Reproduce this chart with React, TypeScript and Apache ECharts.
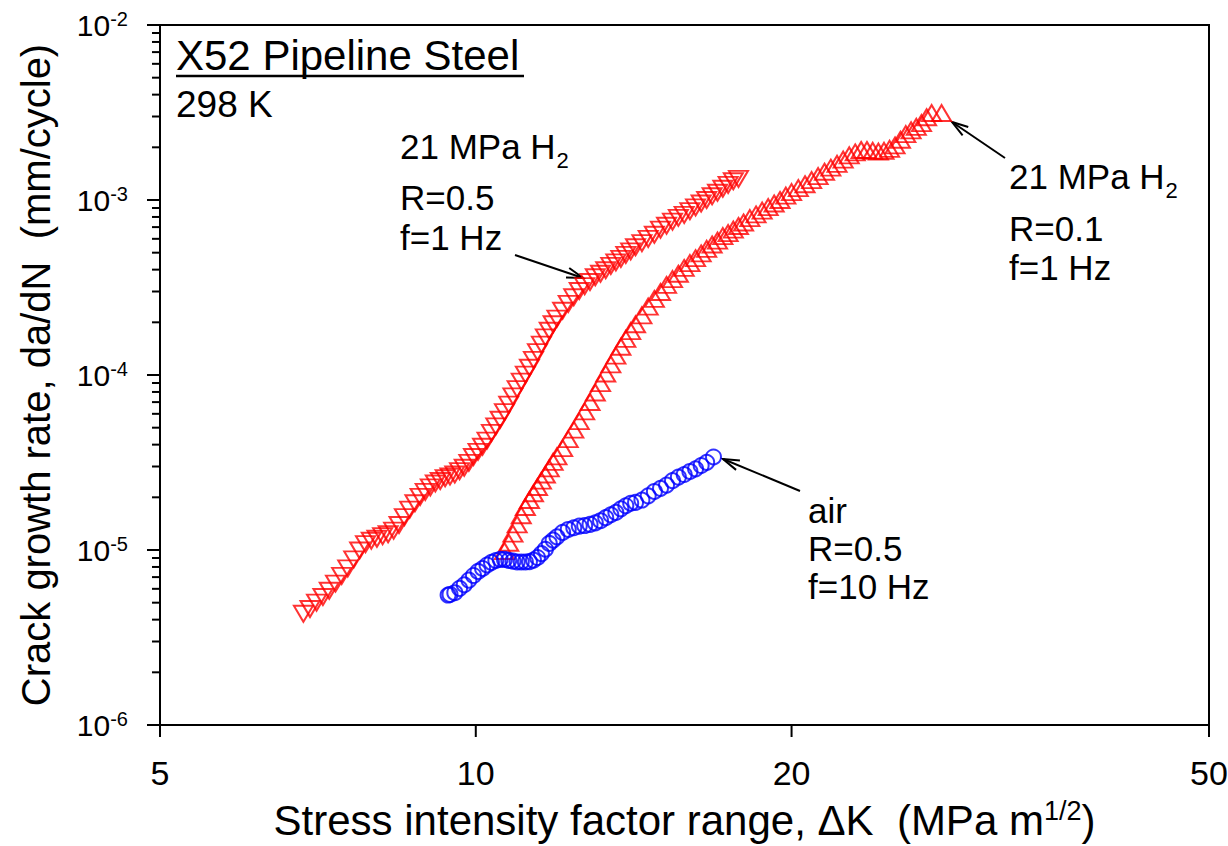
import React, { useEffect, useRef } from 'react';
import * as echarts from 'echarts';

const FONT = "'Liberation Sans', Arial, Helvetica, sans-serif";

// Axis ticks
const xTicks = [5, 10, 20, 50];
const yTicks = [1e-6, 1e-5, 1e-4, 1e-3, 1e-2];
const yMinorTicks = [
  2e-6, 3e-6, 4e-6, 5e-6, 6e-6, 7e-6, 8e-6, 9e-6,
  2e-5, 3e-5, 4e-5, 5e-5, 6e-5, 7e-5, 8e-5, 9e-5,
  2e-4, 3e-4, 4e-4, 5e-4, 6e-4, 7e-4, 8e-4, 9e-4,
  2e-3, 3e-3, 4e-3, 5e-3, 6e-3, 7e-3, 8e-3, 9e-3,
];

// 21 MPa H2, R=0.5, f=1 Hz (inverted triangles)
const h2R05K = [
  6.85, 6.95, 7.05, 7.15, 7.25, 7.35, 7.45, 7.55, 7.65, 7.75,
  7.85, 7.95, 8.05, 8.15, 8.25, 8.35, 8.45, 8.55, 8.65, 8.75,
  8.85, 8.95, 9.05, 9.15, 9.25, 9.35, 9.45, 9.55, 9.65, 9.75,
  9.85, 9.95, 10.05, 10.15, 10.25, 10.35, 10.45, 10.55, 10.65, 10.75,
  10.85, 10.95, 11.05, 11.15, 11.25, 11.35, 11.45, 11.55, 11.65, 11.75,
  11.85, 11.95, 12.1, 12.25, 12.4, 12.55, 12.7, 12.85, 13.0, 13.15,
  13.3, 13.45, 13.6, 13.75, 13.9, 14.05, 14.2, 14.4, 14.6, 14.8,
  15.0, 15.2, 15.4, 15.6, 15.8, 16.0, 16.2, 16.4, 16.6, 16.8,
  17.0, 17.2, 17.4, 17.6, 17.8,
];
const h2R05Rate = [
  4.32e-6, 4.6e-6, 5.0e-6, 5.39e-6, 5.85e-6, 6.43e-6, 7.11e-6, 7.85e-6, 8.83e-6, 9.93e-6,
  1.08e-5, 1.13e-5, 1.16e-5, 1.2e-5, 1.23e-5, 1.29e-5, 1.39e-5, 1.54e-5, 1.7e-5, 1.85e-5,
  2.01e-5, 2.15e-5, 2.28e-5, 2.4e-5, 2.48e-5, 2.57e-5, 2.63e-5, 2.7e-5, 2.82e-5, 2.95e-5,
  3.15e-5, 3.4e-5, 3.64e-5, 3.89e-5, 4.22e-5, 4.67e-5, 5.09e-5, 5.55e-5, 6.14e-5, 6.77e-5,
  7.55e-5, 8.31e-5, 9.16e-5, 1.005e-4, 1.1e-4, 1.22e-4, 1.35e-4, 1.49e-4, 1.64e-4, 1.79e-4,
  1.95e-4, 2.1e-4, 2.33e-4, 2.55e-4, 2.78e-4, 3.02e-4, 3.22e-4, 3.4e-4, 3.62e-4, 3.79e-4,
  3.97e-4, 4.2e-4, 4.4e-4, 4.61e-4, 4.86e-4, 5.09e-4, 5.37e-4, 5.67e-4, 5.99e-4, 6.33e-4,
  6.77e-4, 7.13e-4, 7.52e-4, 7.91e-4, 8.22e-4, 8.64e-4, 9.08e-4, 9.55e-4, 1.0e-3, 1.05e-3,
  1.1e-3, 1.16e-3, 1.22e-3, 1.28e-3, 1.32e-3,
];

// 21 MPa H2, R=0.1, f=1 Hz (triangles)
const h2R01K = [
  10.65, 10.75, 10.85, 10.95, 11.05, 11.15, 11.25, 11.35, 11.45, 11.55,
  11.65, 11.75, 11.85, 11.95, 12.1, 12.25, 12.4, 12.55, 12.7, 12.85,
  13.0, 13.15, 13.3, 13.45, 13.6, 13.75, 13.9, 14.05, 14.2, 14.4,
  14.6, 14.8, 15.0, 15.2, 15.4, 15.6, 15.8, 16.0, 16.2, 16.4,
  16.6, 16.8, 17.0, 17.2, 17.4, 17.6, 17.8, 18.0, 18.25, 18.5,
  18.75, 19.0, 19.25, 19.5, 19.75, 20.0, 20.3, 20.6, 20.9, 21.2,
  21.5, 21.8, 22.1, 22.4, 22.7, 23.0, 23.3, 23.6, 23.9, 24.2,
  24.5, 24.8, 25.1, 25.4, 25.7, 26.0, 26.3, 26.6, 26.9, 27.2,
  27.8,
];
const h2R01Rate = [
  9.87e-6, 1.1e-5, 1.24e-5, 1.4e-5, 1.58e-5, 1.76e-5, 1.93e-5, 2.11e-5, 2.29e-5, 2.49e-5,
  2.7e-5, 2.93e-5, 3.19e-5, 3.43e-5, 3.82e-5, 4.3e-5, 4.87e-5, 5.45e-5, 6.19e-5, 7.01e-5,
  7.94e-5, 8.99e-5, 1.02e-4, 1.15e-4, 1.29e-4, 1.45e-4, 1.61e-4, 1.78e-4, 1.95e-4, 2.19e-4,
  2.46e-4, 2.72e-4, 2.98e-4, 3.27e-4, 3.53e-4, 3.79e-4, 4.09e-4, 4.36e-4, 4.65e-4, 4.95e-4,
  5.26e-4, 5.57e-4, 5.86e-4, 6.22e-4, 6.47e-4, 6.77e-4, 7.1e-4, 7.44e-4, 7.88e-4, 8.27e-4,
  8.69e-4, 9.11e-4, 9.55e-4, 1.0e-3, 1.06e-3, 1.11e-3, 1.17e-3, 1.23e-3, 1.3e-3, 1.37e-3,
  1.45e-3, 1.53e-3, 1.61e-3, 1.7e-3, 1.8e-3, 1.87e-3, 1.93e-3, 1.93e-3, 1.91e-3, 1.89e-3,
  1.91e-3, 1.96e-3, 2.05e-3, 2.21e-3, 2.38e-3, 2.5e-3, 2.62e-3, 2.75e-3, 2.97e-3, 3.14e-3,
  3.14e-3,
];

// air, R=0.5, f=10 Hz (circles)
const airK = [
  9.41, 9.45, 9.55, 9.65, 9.75, 9.85, 9.95, 10.05, 10.15, 10.25,
  10.35, 10.45, 10.55, 10.65, 10.75, 10.85, 10.95, 11.05, 11.15, 11.25,
  11.35, 11.45, 11.55, 11.65, 11.75, 11.85, 11.95, 12.1, 12.25, 12.4,
  12.55, 12.7, 12.85, 13.0, 13.15, 13.3, 13.45, 13.6, 13.75, 13.9,
  14.05, 14.2, 14.4, 14.6, 14.8, 15.0, 15.2, 15.4, 15.6, 15.8,
  16.0, 16.2, 16.4, 16.6, 16.85,
];
const airRate = [
  5.53e-6, 5.57e-6, 5.7e-6, 6.04e-6, 6.33e-6, 6.73e-6, 7.15e-6, 7.54e-6, 7.84e-6, 8.21e-6,
  8.5e-6, 8.71e-6, 8.84e-6, 8.83e-6, 8.73e-6, 8.63e-6, 8.54e-6, 8.54e-6, 8.54e-6, 8.58e-6,
  8.76e-6, 9.06e-6, 9.54e-6, 1.01e-5, 1.09e-5, 1.14e-5, 1.19e-5, 1.26e-5, 1.31e-5, 1.34e-5,
  1.37e-5, 1.38e-5, 1.4e-5, 1.43e-5, 1.47e-5, 1.53e-5, 1.59e-5, 1.64e-5, 1.72e-5, 1.79e-5,
  1.85e-5, 1.87e-5, 1.93e-5, 2.04e-5, 2.16e-5, 2.25e-5, 2.35e-5, 2.49e-5, 2.61e-5, 2.7e-5,
  2.81e-5, 2.91e-5, 3.04e-5, 3.17e-5, 3.4e-5,
];

const xTitle = 'Stress intensity factor range, ΔK  (MPa m{sup|1/2})';
const yTitle = 'Crack growth rate, da/dN  (mm/cycle)';

function pairs(xs: number[], ys: number[]) {
  return xs.map((x, i) => [x, ys[i]]);
}

function seg(x1: number, y1: number, x2: number, y2: number, w = 2) {
  return { type: 'line', shape: { x1, y1, x2, y2 }, style: { stroke: '#000', lineWidth: w } };
}

function arrow(x1: number, y1: number, x2: number, y2: number) {
  const a = Math.atan2(y2 - y1, x2 - x1);
  const L = 17;
  const s = 0.3;
  const p1 = [x2 - L * Math.cos(a - s), y2 - L * Math.sin(a - s)];
  const p2 = [x2 - L * Math.cos(a + s), y2 - L * Math.sin(a + s)];
  return [
    seg(x1, y1, x2, y2),
    { type: 'polyline', shape: { points: [p1, [x2, y2], p2] }, style: { stroke: '#000', lineWidth: 2, fill: null } },
  ];
}

function txt(text: string, x: number, y: number, fontSize: number) {
  return {
    type: 'text', x, y,
    style: { text, fontSize, fontFamily: FONT, fill: '#000', align: 'left', verticalAlign: 'middle' },
  };
}

function subTxt(main: string, sub: string, x: number, capCenter: number, fontSize: number) {
  return {
    type: 'text', x, y: capCenter - fontSize / 2,
    style: {
      text: `{m|${main}}{s|${sub}}`,
      align: 'left', verticalAlign: 'top', fill: '#000',
      rich: {
        m: { fontSize, fontFamily: FONT, lineHeight: fontSize, verticalAlign: 'top', fill: '#000' },
        s: { fontSize: Math.round(fontSize * 0.64), fontFamily: FONT, lineHeight: Math.round(fontSize * 0.64), verticalAlign: 'top', padding: [Math.round(fontSize * 0.6), 0, 0, 1], fill: '#000' },
      },
    },
  };
}

export default function App() {
  const ref = useRef<HTMLDivElement>(null);
  useEffect(() => {
    if (!ref.current) return;
    const chart = echarts.init(ref.current, undefined, { renderer: 'svg' });
    const axisLineStyle = { color: '#000', width: 2 };
    const scatterBase = { type: 'scatter', clip: false, emphasis: { disabled: true } };
    const option: any = {
      animation: false,
      backgroundColor: '#fff',
      grid: {
        left: 160, top: 25, width: 1049, height: 700,
        show: true, borderColor: '#000', borderWidth: 2, backgroundColor: 'transparent',
        containLabel: false, outerBoundsMode: 'none',
      },
      xAxis: {
        type: 'log', logBase: 10, min: 5, max: 50,
        axisLine: { lineStyle: axisLineStyle },
        axisTick: { show: false },
        splitLine: { show: false },
        axisLabel: { customValues: xTicks, fontSize: 34, fontFamily: FONT, color: '#000', margin: 31 },
      },
      yAxis: {
        type: 'log', logBase: 10, min: 1e-6, max: 1e-2,
        axisLine: { lineStyle: axisLineStyle },
        axisTick: { show: true, length: 13, lineStyle: { color: '#000', width: 2 } },
        splitLine: { show: false },
        axisLabel: {
          customValues: yTicks, margin: 32, fontSize: 30, fontFamily: FONT, color: '#000',
          formatter: (v: number) => `{b|10}{s|${Math.round(Math.log10(v))}}`,
          rich: {
            b: { fontSize: 30, fontFamily: FONT, color: '#000', lineHeight: 32 },
            s: { fontSize: 20, fontFamily: FONT, color: '#000', lineHeight: 20, verticalAlign: 'top' },
          },
        },
      },
      series: [
        {
          ...scatterBase, name: '21 MPa H2 R=0.5',
          data: pairs(h2R05K, h2R05Rate),
          symbol: 'triangle', symbolRotate: 180, symbolSize: [19, 16],
          itemStyle: { color: 'rgba(0,0,0,0)', borderColor: '#ff0000', borderWidth: 2 },
        },
        {
          ...scatterBase, name: '21 MPa H2 R=0.1',
          data: pairs(h2R01K, h2R01Rate),
          symbol: 'triangle', symbolSize: [19, 16],
          itemStyle: { color: 'rgba(0,0,0,0)', borderColor: '#ff0000', borderWidth: 2 },
        },
        {
          ...scatterBase, name: 'air R=0.5',
          data: pairs(airK, airRate),
          symbol: 'circle', symbolSize: 15,
          itemStyle: { color: 'rgba(0,0,0,0)', borderColor: '#0000ff', borderWidth: 2 },
        },
      ],
    };
    chart.setOption(option);

    // minor y ticks and x ticks, positioned through the chart's own log scales
    const toPx = (x: number, y: number) => chart.convertToPixel({ gridIndex: 0 }, [x, y]) as number[];
    const ticks: any[] = [];
    yMinorTicks.forEach((v) => {
      const p = toPx(xTicks[0], v);
      ticks.push({ type: 'line', shape: { x1: p[0] - 8, y1: p[1], x2: p[0], y2: p[1] }, style: { stroke: '#000', lineWidth: 2 } });
    });
    xTicks.forEach((v) => {
      const p = toPx(v, yTicks[0]);
      ticks.push({ type: 'line', shape: { x1: p[0], y1: p[1], x2: p[0], y2: p[1] + 12 }, style: { stroke: '#000', lineWidth: 2 } });
    });
    const gridMidX = toPx(Math.sqrt(xTicks[0] * xTicks[xTicks.length - 1]), yTicks[0])[0];
    const gridMidY = toPx(xTicks[0], Math.sqrt(yTicks[0] * yTicks[yTicks.length - 1]))[1];

    chart.setOption({
      graphic: [
        ...ticks,
        {
          type: 'text', x: gridMidX, y: 820,
          style: {
            text: xTitle, fontSize: 42, fontFamily: FONT, fill: '#000', lineHeight: 46,
            align: 'center', verticalAlign: 'middle',
            rich: { sup: { fontSize: 27, fontFamily: FONT, fill: '#000', lineHeight: 27, verticalAlign: 'top' } },
          },
        },
        {
          type: 'text', x: 36, y: gridMidY, rotation: Math.PI / 2,
          style: { text: yTitle, fontSize: 40, fontFamily: FONT, fill: '#000', align: 'center', verticalAlign: 'middle' },
        },
        txt('X52 Pipeline Steel', 176, 55, 42),
        seg(176, 76, 524, 76, 2.5),
        txt('298 K', 176, 104, 37),
        subTxt('21 MPa H', '2', 400, 146, 35),
        txt('R=0.5', 400, 197, 35),
        txt('f=1 Hz', 400, 237, 35),
        subTxt('21 MPa H', '2', 1009, 176, 35),
        txt('R=0.1', 1009, 228, 35),
        txt('f=1 Hz', 1009, 267, 35),
        txt('air', 808, 510, 35),
        txt('R=0.5', 808, 548, 35),
        txt('f=10 Hz', 808, 586, 35),
        ...arrow(515, 255, 583, 278),
        ...arrow(1005, 158, 952, 122),
        ...arrow(800, 491, 723, 459),
      ],
    });
    return () => chart.dispose();
  }, []);
  return <div ref={ref} style={{ position: 'absolute', left: 0, top: 0, width: 1228, height: 846 }} />;
}
